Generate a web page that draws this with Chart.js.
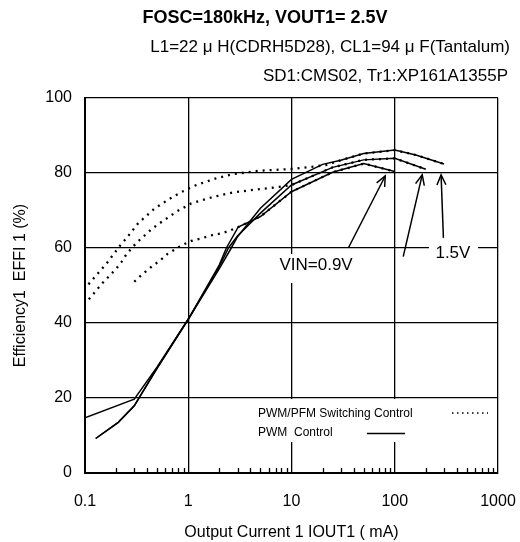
<!DOCTYPE html>
<html><head><meta charset="utf-8">
<script src="https://cdn.jsdelivr.net/npm/chart.js@4"></script>
<style>html,body{margin:0;padding:0;background:#fff}</style>
</head><body>
<canvas id="c" width="520" height="542"></canvas>
<script>
const FONT = '"Liberation Sans", Arial, Helvetica, sans-serif';

// PWM control (solid)
const pwm15X = [0.1, 0.3, 0.5, 1, 2, 2.61, 3, 5, 10, 20, 30, 50, 100, 160, 300];
const pwm15Y = [14.7, 19.7, 28.3, 41, 54.5, 60, 63, 70.6, 78.3, 82.3, 83.4, 85.2, 86.1, 84.8, 82.4];
const pwm12X = [0.127, 0.21, 0.3, 0.5, 1, 2, 2.45, 3, 5, 10, 25, 50, 100, 200];
const pwm12Y = [9.2, 13.5, 17.9, 28, 41, 55, 60, 63.2, 69.3, 76.8, 81.5, 83.5, 83.9, 81];
const pwm09X = [0.127, 0.21, 0.3, 0.5, 1, 2, 2.34, 3.05, 5, 10, 25, 50, 100];
const pwm09Y = [9.2, 13.5, 17.9, 28, 41, 55.5, 60, 65.6, 68.4, 75, 80.2, 82.5, 80.4];

// PWM/PFM switching control (dotted)
const pfm15X = [0.108, 0.162, 0.19, 0.218, 0.25, 0.327, 0.475, 0.713, 0.96, 1.2, 1.87, 2.7, 4.9, 10.3, 21.6, 30, 50, 100, 160, 300];
const pfm15Y = [50.3, 55.9, 58.4, 60.6, 62.5, 66.6, 70.6, 73.7, 75.6, 76.8, 78.6, 79.7, 80.6, 81.1, 82.1, 83.4, 85.2, 86.1, 84.8, 82.4];
const pfm12X = [0.109, 0.147, 0.198, 0.226, 0.253, 0.316, 0.44, 0.51, 0.77, 1.07, 1.74, 2.7, 4.9, 7.65, 10, 25, 50, 100, 200];
const pfm12Y = [46.3, 50.6, 54.3, 56.3, 58.4, 61.4, 65, 66.3, 69.7, 71.9, 73.6, 74.8, 75.7, 76.3, 76.8, 81.5, 83.5, 83.9, 81];
const pfm09X = [0.3, 0.36, 0.44, 0.53, 0.63, 0.86, 1.07, 1.39, 1.74, 2.1, 2.5, 3.05, 5, 10, 25, 50, 100];
const pfm09Y = [51, 53, 55, 56.6, 58.4, 60.7, 61.9, 62.7, 63.5, 63.9, 64.6, 65.6, 68.4, 75, 80.2, 82.5, 80.4];

const xTicks = [0.1, 1, 10, 100, 1000];
const xTickLabels = ['0.1', '1', '10', '100', '1000'];
const yTicks = [0, 20, 40, 60, 80, 100];

const titleLines = ['FOSC=180kHz, VOUT1= 2.5V', 'L1=22 \u03bc H(CDRH5D28), CL1=94 \u03bc F(Tantalum)', 'SD1:CMS02, Tr1:XP161A1355P'];
const xTitle = 'Output Current 1 IOUT1 ( mA)';
const yTitle = 'Efficiency1  EFFI 1 (%)';
const legendLabels = ['PWM/PFM Switching Control', 'PWM  Control'];

// annotation labels [text, x(mA), y(%)]
const labelVin = ['VIN=0.9V', 17.3, 55.5];
const label15 = ['1.5V', 366, 58.7];
// arrows [fromX, fromY, toX, toY] in data units
const arrows = [
  [35.8, 60.2, 80.9, 79.2],
  [120.8, 57.7, 184.5, 79.5],
  [296, 62.7, 281, 79.5]
];

function pts(X, Y) { return X.map((x, i) => ({x: x, y: Y[i]})); }
function solid(X, Y) { return {data: pts(X, Y), borderColor: '#000', borderWidth: 1.5, pointRadius: 0, fill: false, tension: 0}; }
function dotted(X, Y) { return {data: pts(X, Y), borderColor: '#000', borderWidth: 2.3, borderDash: [2, 5], pointRadius: 0, fill: false, tension: 0}; }

const deco = {
  id: 'deco',
  afterDraw(chart) {
    const ctx = chart.ctx, xs = chart.scales.x, ys = chart.scales.y;
    const ca = chart.chartArea;
    ctx.save();
    // minor ticks
    ctx.strokeStyle = '#000'; ctx.lineWidth = 1.3;
    for (let d = 0.1; d < 999; d *= 10) {
      for (let m = 2; m <= 9; m++) {
        const px = Math.round(xs.getPixelForValue(d * m)) + 0.5;
        ctx.beginPath(); ctx.moveTo(px, ca.bottom); ctx.lineTo(px, ca.bottom - 5); ctx.stroke();
      }
    }
    // white boxes for labels
    ctx.fillStyle = '#fff';
    ctx.fillRect(276, 254, 82, 29);
    ctx.fillRect(429, 240, 49, 28);
    ctx.fillRect(250, 399, 246, 43);
    // labels
    ctx.fillStyle = '#000';
    ctx.textBaseline = 'middle';
    ctx.font = '17px ' + FONT;
    ctx.textAlign = 'center';
    ctx.fillText(labelVin[0], xs.getPixelForValue(labelVin[1]), ys.getPixelForValue(labelVin[2]));
    ctx.fillText(label15[0], xs.getPixelForValue(label15[1]), ys.getPixelForValue(label15[2]));
    // arrows
    ctx.lineWidth = 1.5;
    arrows.forEach(a => {
      const x1 = xs.getPixelForValue(a[0]), y1 = ys.getPixelForValue(a[1]);
      const x2 = xs.getPixelForValue(a[2]), y2 = ys.getPixelForValue(a[3]);
      ctx.beginPath(); ctx.moveTo(x1, y1); ctx.lineTo(x2, y2); ctx.stroke();
      const ang = Math.atan2(y2 - y1, x2 - x1), L = 11, sp = 0.42;
      ctx.beginPath();
      ctx.moveTo(x2 - L * Math.cos(ang - sp), y2 - L * Math.sin(ang - sp));
      ctx.lineTo(x2, y2);
      ctx.lineTo(x2 - L * Math.cos(ang + sp), y2 - L * Math.sin(ang + sp));
      ctx.stroke();
    });
    // legend
    ctx.font = '12px ' + FONT;
    ctx.textAlign = 'left';
    ctx.fillText(legendLabels[0], 258, 414);
    ctx.fillText(legendLabels[1], 258, 433);
    ctx.lineWidth = 1.5;
    ctx.setLineDash([1.5, 3.5]);
    ctx.beginPath(); ctx.moveTo(452, 413); ctx.lineTo(488, 413); ctx.stroke();
    ctx.setLineDash([]);
    ctx.beginPath(); ctx.moveTo(367, 433.5); ctx.lineTo(405, 433.5); ctx.stroke();
    // titles
    ctx.font = 'bold 18px ' + FONT;
    ctx.textAlign = 'center';
    ctx.fillText(titleLines[0], 265, 18);
    ctx.font = '17px ' + FONT;
    ctx.textAlign = 'right';
    ctx.fillText(titleLines[1], 510, 47);
    ctx.fillText(titleLines[2], 508, 76);
    ctx.restore();
  }
};

new Chart(document.getElementById('c'), {
  type: 'line',
  data: {datasets: [
    solid(pwm15X, pwm15Y), solid(pwm12X, pwm12Y), solid(pwm09X, pwm09Y),
    dotted(pfm15X, pfm15Y), dotted(pfm12X, pfm12Y), dotted(pfm09X, pfm09Y)
  ]},
  options: {
    responsive: false, animation: false, devicePixelRatio: 1,
    layout: {padding: {top: 98, right: 22, left: 0, bottom: 0}},
    plugins: {legend: {display: false}, tooltip: {enabled: false}, title: {display: false}},
    elements: {point: {radius: 0}, line: {tension: 0}},
    scales: {
      x: {
        type: 'logarithmic', min: 0.1, max: 1000,
        afterBuildTicks: (s) => { s.ticks = xTicks.map(v => ({value: v})); },
        afterFit: (s) => { s.height = 69; },
        ticks: {autoSkip: false, maxRotation: 0, padding: 2, color: '#000',
          font: {family: FONT, size: 16},
          callback: (v) => xTickLabels[xTicks.indexOf(v)] },
        grid: {color: '#000', lineWidth: 1.3, drawTicks: true, tickLength: 17, tickColor: 'rgba(0,0,0,0)'},
        border: {color: '#000', width: 2},
        title: {display: true, text: xTitle, color: '#000', font: {family: FONT, size: 16}, padding: {top: 0, bottom: 0}}
      },
      y: {
        type: 'linear', min: 0, max: 100,
        afterBuildTicks: (s) => { s.ticks = yTicks.map(v => ({value: v})); },
        afterFit: (s) => { s.width = 85; },
        ticks: {padding: 13, color: '#000', font: {family: FONT, size: 16}},
        grid: {color: '#000', lineWidth: 1.3, drawTicks: false},
        border: {color: '#000', width: 2},
        title: {display: true, text: yTitle, color: '#000', font: {family: FONT, size: 16}, padding: {top: 11, bottom: 0}}
      }
    }
  },
  plugins: [deco]
});
</script>
</body></html>
